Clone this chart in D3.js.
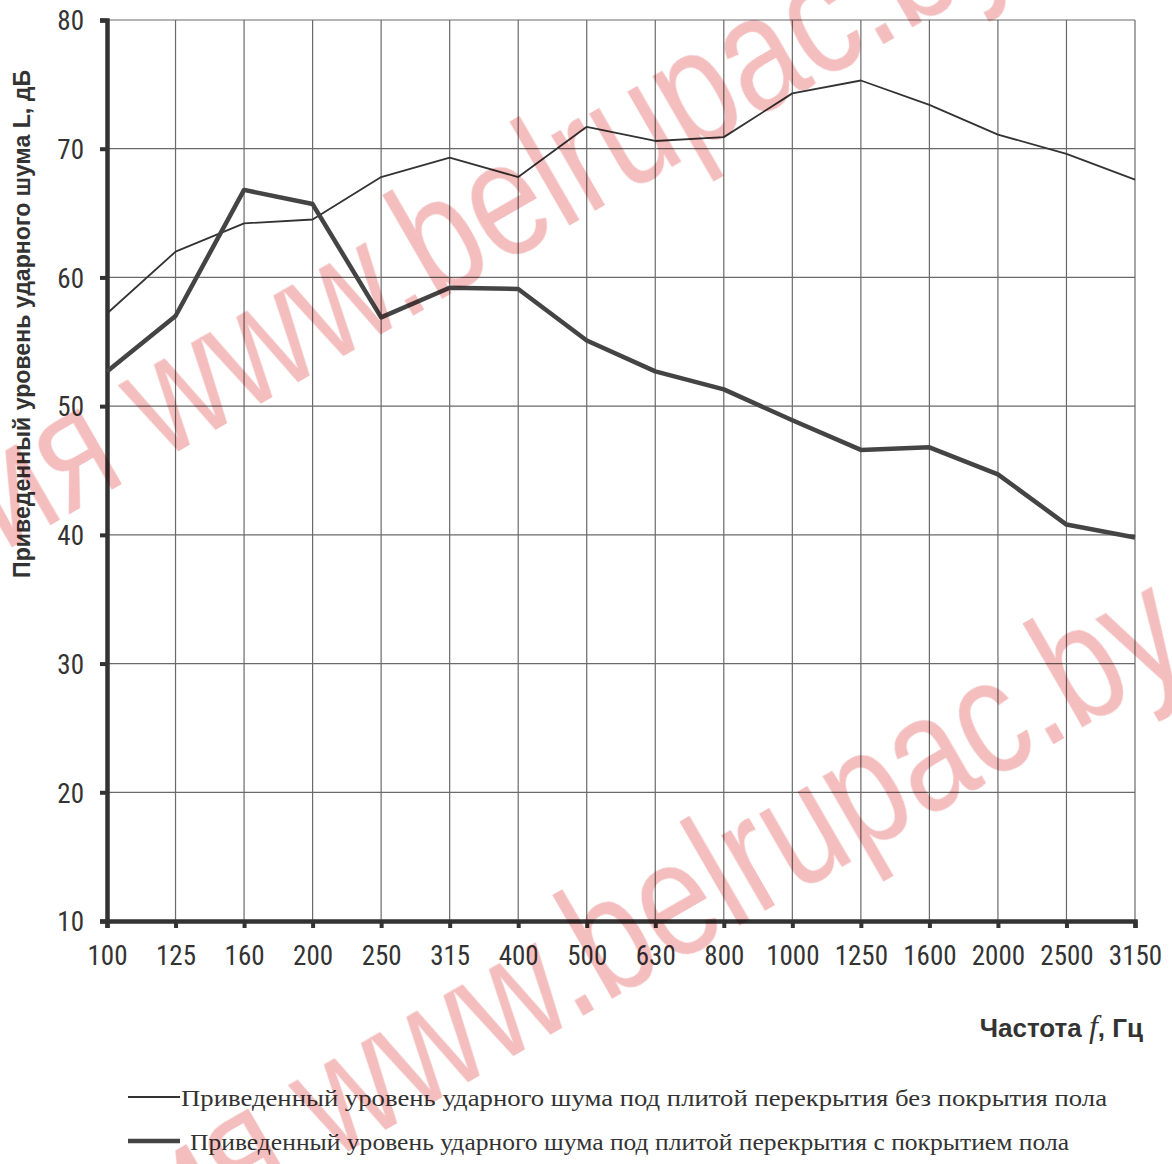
<!DOCTYPE html>
<html>
<head>
<meta charset="utf-8">
<script src="https://cdn.jsdelivr.net/npm/d3@7"></script>
<style>
  body { margin: 0; background: #fff; }
  .tick text { font-family: "Liberation Sans Narrow", "Roboto Condensed", "Liberation Sans", sans-serif; fill: #333; }
</style>
</head>
<body>
<script>
// freq bands (Hz) and levels
var categories = ["100","125","160","200","250","315","400","500","630","800","1000","1250","1600","2000","2500","3150"];
var bare = [57.2, 62.0, 64.2, 64.5, 67.8, 69.3, 67.8, 71.7, 70.6, 70.9, 74.3, 75.3, 73.4, 71.1, 69.6, 67.6];
var covered = [52.7, 57.0, 66.8, 65.7, 56.9, 59.2, 59.1, 55.1, 52.7, 51.3, 48.9, 46.6, 46.8, 44.7, 40.8, 39.8];
var yTicks = [10, 20, 30, 40, 50, 60, 70, 80];
var legendLabels = [
  "Приведенный уровень ударного шума под плитой перекрытия без покрытия пола",
  "Приведенный уровень ударного шума под плитой перекрытия с покрытием пола"
];
var watermark = "ия www.belrupac.by";

var W = 1172, H = 1164;
var svg = d3.select('body').append('svg').attr('width', W).attr('height', H);

var x = d3.scalePoint().domain(categories).range([107, 1135]);
var y = d3.scaleLinear().domain([10, 80]).range([921, 20]);

// grid
var grid = svg.append('g').attr('id', 'grid');
grid.selectAll('.vg').data(categories).enter().append('line')
  .attr('x1', function(d){return x(d)}).attr('x2', function(d){return x(d)})
  .attr('y1', y(80)).attr('y2', y(10))
  .attr('stroke', '#6a6a6a').attr('stroke-width', 1.2);
grid.selectAll('.hg').data(yTicks).enter().append('line')
  .attr('x1', x("100")).attr('x2', x("3150"))
  .attr('y1', function(d){return y(d)}).attr('y2', function(d){return y(d)})
  .attr('stroke', '#6a6a6a').attr('stroke-width', 1.2);

// axes
var yAxis = svg.append('g').attr('transform', 'translate(' + x("100") + ',0)')
  .call(d3.axisLeft(y).tickValues(yTicks).tickSize(7).tickPadding(16).tickFormat(d3.format('d')));
var xAxis = svg.append('g').attr('transform', 'translate(0,' + y(10) + ')')
  .call(d3.axisBottom(x).tickSize(7).tickPadding(18));
[yAxis, xAxis].forEach(function(a){
  a.select('.domain').attr('stroke', '#333').attr('stroke-width', 4.5);
  a.selectAll('.tick line').attr('stroke', '#333').attr('stroke-width', 4);
});
yAxis.selectAll('.tick text').attr('font-size', 27).attr('dy', '0.36em');
xAxis.selectAll('.tick text').attr('font-size', 27).attr('dy', '0.71em');

// series
var line = d3.line().x(function(d, i){return x(categories[i])}).y(function(d){return y(d)});
svg.append('path').datum(bare).attr('d', line)
  .attr('fill', 'none').attr('stroke', '#333').attr('stroke-width', 1.8).attr('stroke-linejoin', 'round');
svg.append('path').datum(covered).attr('d', line)
  .attr('fill', 'none').attr('stroke', '#444').attr('stroke-width', 4.5).attr('stroke-linejoin', 'round');

// axis titles
svg.append('text')
  .attr('transform', 'translate(30,324) rotate(-90)')
  .attr('text-anchor', 'middle')
  .attr('font-family', '"Liberation Sans Narrow", "Liberation Sans", sans-serif')
  .attr('font-weight', 'bold').attr('font-size', 23).attr('fill', '#333')
  .attr('textLength', 508).attr('lengthAdjust', 'spacingAndGlyphs')
  .text('Приведенный уровень ударного шума L, дБ');

var xt = svg.append('text')
  .attr('x', 1143).attr('y', 1037).attr('text-anchor', 'end')
  .attr('font-family', '"Liberation Sans Narrow", "Liberation Sans", sans-serif')
  .attr('font-weight', 'bold').attr('font-size', 26).attr('fill', '#333');
xt.append('tspan').text('Частота ');
xt.append('tspan').attr('font-family', '"Liberation Serif", serif').attr('font-style', 'italic')
  .attr('font-weight', 'normal').attr('font-size', 32).text('f');
xt.append('tspan').text(', Гц');

// legend
var leg = svg.append('g').attr('id', 'legend');
var legRows = leg.selectAll('g').data(legendLabels).enter().append('g')
  .attr('transform', function(d, i){return 'translate(0,' + (1097 + i * 44) + ')'});
legRows.append('line').attr('x1', 128).attr('x2', 180).attr('y1', 0).attr('y2', 0)
  .attr('stroke', function(d, i){return i ? '#444' : '#333'})
  .attr('stroke-width', function(d, i){return i ? 4.5 : 1.8});
legRows.append('text')
  .attr('x', function(d, i){return i ? 190 : 181}).attr('y', 9)
  .attr('font-family', '"Liberation Serif", "DejaVu Serif", serif')
  .attr('font-size', 23).attr('fill', '#333')
  .attr('textLength', function(d, i){return i ? 879 : 926}).attr('lengthAdjust', 'spacingAndGlyphs')
  .text(function(d){return d});

// watermark
var wm = svg.append('g').attr('id', 'wm').style('mix-blend-mode', 'multiply');
wm.selectAll('text').data([[ 4, 552 ], [ 174, 1252 ]]).enter().append('text')
  .attr('transform', function(d){return 'translate(' + d[0] + ',' + d[1] + ') rotate(-30) scale(0.8,1)'})
  .attr('font-family', '"Liberation Sans", Arial, sans-serif')
  .attr('font-size', 165).attr('fill', 'rgb(220,40,40)').attr('fill-opacity', 0.3)
  .text(watermark);
</script>
</body>
</html>
